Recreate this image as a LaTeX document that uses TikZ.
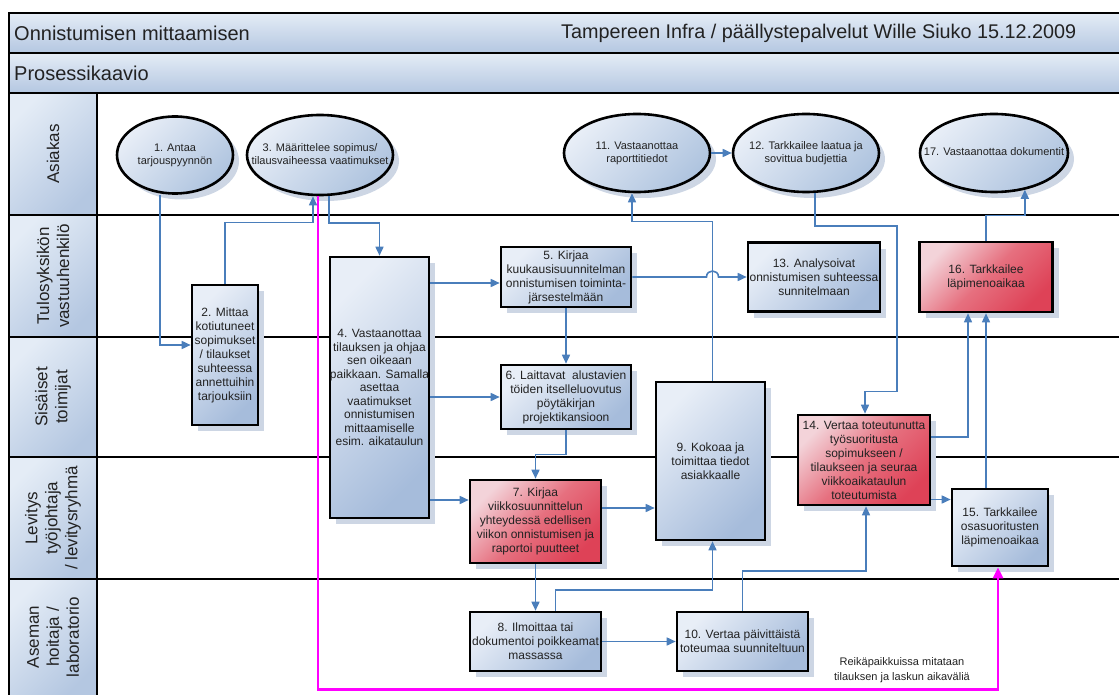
\documentclass[tikz,border=0pt]{standalone}
\usepackage{fontspec}
\setmainfont{Liberation Sans}
\usetikzlibrary{shapes.geometric,arrows.meta,shadows,calc}
\definecolor{hdA}{HTML}{E4ECF6}
\definecolor{hdB}{HTML}{B4C7E1}
\definecolor{bxA}{HTML}{E8EEF7}
\definecolor{bxB}{HTML}{A6BCDB}
\definecolor{ovB}{HTML}{AFC4DF}
\definecolor{rdA}{HTML}{F3D3D9}
\definecolor{rdM}{HTML}{E6707F}
\definecolor{rdB}{HTML}{DE4257}
\definecolor{flowc}{HTML}{4A7EBB}
\definecolor{shad}{HTML}{CDD6E4}
\definecolor{txt}{HTML}{222222}
\definecolor{mag}{HTML}{FF00FF}
\newcommand{\ovtxt}[1]{\makebox[0pt]{\begin{tabular}{@{}c@{}}#1\end{tabular}}}
\begin{document}
\begin{tikzpicture}[x=1pt,y=-1pt,
  frame/.style={line width=2.4pt, draw=black},
  boxbase/.style={draw=black, line width=2.6pt, inner sep=0pt, text=txt,
    font=\fontsize{12}{14}\selectfont,
    drop shadow={shadow xshift=6pt, shadow yshift=-6pt, fill=shad, opacity=1}},
  bluebox/.style={boxbase, rectangle, align=center, top color=bxA, bottom color=bxB, shading angle=45},
  redbox/.style={boxbase, rectangle, align=center, top color=rdA, bottom color=rdB, middle color=rdM, shading angle=45},
  oval/.style={boxbase, ellipse, top color=bxA, bottom color=ovB, shading angle=45, font=\fontsize{11}{13}\selectfont},
  flow/.style={draw=flowc, line width=1.6pt, -{Triangle[length=9pt,width=8pt]}},
  magflow/.style={draw=mag, line width=2.6pt, -{Triangle[length=11pt,width=10pt]}},
  lanelabel/.style={rotate=90, align=center, text=txt, font=\fontsize{17}{20}\selectfont},
  titletext/.style={text=txt, font=\fontsize{20}{24}\selectfont, inner sep=0pt},
  celltop/.style={top color=hdA, bottom color=hdB},
  celldiag/.style={top color=hdA, bottom color=hdB, shading angle=45},
]
\useasboundingbox (0,0) rectangle (1119,695);
% backgrounds
\fill[celltop] (9,13) rectangle (1119,53);
\fill[celltop] (9,53) rectangle (1119,93);
\fill[celldiag] (9,93) rectangle (97,215);
\fill[celldiag] (9,215) rectangle (97,337);
\fill[celldiag] (9,337) rectangle (97,457);
\fill[celldiag] (9,457) rectangle (97,579);
\fill[celldiag] (9,579) rectangle (97,695);
% frame lines
\draw[frame] (9,695) -- (9,13) -- (1119,13);
\draw[frame] (9,53) -- (1119,53);
\draw[frame] (9,93) -- (1119,93);
\draw[frame] (97,93) -- (97,695);
\foreach \yy in {215,337,457,579} { \draw[frame] (9,\yy) -- (1119,\yy); }
% titles
\node[titletext, anchor=west] (t1) at (14,33) {Onnistumisen mittaamisen};
\node[titletext, anchor=west, font=\fontsize{19.8}{24}\selectfont] (t2) at (561,33) {Tampereen Infra / päällystepalvelut Wille Siuko 15.12.2009};
\node[titletext, anchor=west] (t3) at (14,73) {Prosessikaavio};
% lane labels
\node[lanelabel] (l1) at (53,154) {Asiakas};
\node[lanelabel] (l2) at (53,276) {Tulosyksikön\\vastuuhenkilö};
\node[lanelabel] (l3) at (53,397) {Sisäiset\\toimijat};
\node[lanelabel] (l4) at (53,518) {Levitys\\työjohtaja\\/ levitysryhmä};
\node[lanelabel] (l5) at (53,637) {Aseman\\hoitaja /\\laboratorio};
% ovals
\node[oval, minimum width=116pt, minimum height=77pt] (n1) at (175,155) {\ovtxt{1. Antaa\\tarjouspyynnön}};
\node[oval, minimum width=146pt, minimum height=80pt] (n3) at (320,155) {\ovtxt{3. Määrittelee sopimus/\\tilausvaiheessa vaatimukset}};
\node[oval, minimum width=146pt, minimum height=78pt] (n11) at (637,153) {\ovtxt{11. Vastaanottaa\\raporttitiedot}};
\node[oval, minimum width=146pt, minimum height=78pt] (n12) at (806,153) {\ovtxt{12. Tarkkailee laatua ja\\sovittua budjettia}};
\node[oval, minimum width=148pt, minimum height=78pt] (n17) at (994,153) {\ovtxt{17. Vastaanottaa dokumentit}};
% boxes
\node[bluebox, minimum width=66pt, minimum height=140pt] (n2) at (225,355) {2. Mittaa\\kotiutuneet\\sopimukset\\/ tilaukset\\suhteessa\\annettuihin\\tarjouksiin};
\node[bluebox, minimum width=99pt, minimum height=261pt, font=\fontsize{12}{13.5}\selectfont] (n4) at (379.5,387.5) {4. Vastaanottaa\\tilauksen ja ohjaa\\sen oikeaan\\paikkaan. Samalla\\asettaa\\vaatimukset\\onnistumisen\\mittaamiselle\\esim. aikataulun};
\node[bluebox, minimum width=130pt, minimum height=60pt] (n5) at (566,277) {5. Kirjaa\\kuukausisuunnitelman\\onnistumisen toiminta-\\järsestelmään};
\node[bluebox, minimum width=130pt, minimum height=64pt] (n6) at (566,397) {6. Laittavat~ alustavien\\töiden itselleluovutus\\pöytäkirjan\\projektikansioon};
\node[redbox, minimum width=131pt, minimum height=83pt] (n7) at (535.5,521.5) {7. Kirjaa\\viikkosuunnittelun\\yhteydessä edellisen\\viikon onnistumisen ja\\raportoi puutteet};
\node[bluebox, minimum width=131pt, minimum height=59pt] (n8) at (535.5,641.5) {8. Ilmoittaa tai\\dokumentoi poikkeamat\\massassa};
\node[bluebox, minimum width=109pt, minimum height=158pt] (n9) at (710.5,461) {9. Kokoaa ja\\toimittaa tiedot\\asiakkaalle};
\node[bluebox, minimum width=131pt, minimum height=59pt] (n10) at (742.5,641.5) {10. Vertaa päivittäistä\\toteumaa suunniteltuun};
\node[bluebox, minimum width=132pt, minimum height=69pt] (n13) at (814,277) {13. Analysoivat\\onnistumisen suhteessa\\sunnitelmaan};
\node[redbox, minimum width=132pt, minimum height=90pt] (n14) at (864,460) {14. Vertaa toteutunutta\\työsuoritusta\\sopimukseen /\\tilaukseen ja seuraa\\viikkoaikataulun\\toteutumista};
\node[bluebox, minimum width=96pt, minimum height=77pt] (n15) at (1000,527.5) {15. Tarkkailee\\osasuoritusten\\läpimenoaikaa};
\node[redbox, minimum width=133pt, minimum height=70pt] (n16) at (986,277) {16. Tarkkailee\\läpimenoaikaa};
\node[align=center, text=txt, font=\fontsize{11}{15}\selectfont] (note) at (902,670) {Reikäpaikkuissa mitataan\\tilauksen ja laskun aikaväliä};
% helper coordinates
\coordinate (v911) at ([xshift=2pt]n9.north);
\coordinate (hopc) at (v911 |- n5.east);
\coordinate (p45) at ([yshift=-6pt]n5.west);
\coordinate (p47) at ([yshift=21.5pt]n7.west);
\coordinate (p79) at ([yshift=-47pt]n9.west);
\coordinate (p1415) at ([yshift=28pt]n15.west);
% connectors
\draw[magflow] ([xshift=-2pt]n3.south) -- ++(0,493) -| ([xshift=-2pt]n15.south);
\draw[flow] ([xshift=-15pt]n1.south) |- ([yshift=10pt]n2.west);
\draw[flow] (n2.north) -- ++(0,-61) -| ([xshift=-7pt]n3.south);
\draw[flow] ([xshift=9pt]n3.south) -- ++(0,27) -| (n4.north);
\draw[flow] (n4.east |- p45) -- (p45);
\draw[flow] (n4.east |- n6.west) -- (n6.west);
\draw[flow] (n4.east |- p47) -- (p47);
\draw[flow] (n5.south) -- (n6.north);
\draw[flow] (n6.south) -- ++(0,24) -| (n7.north);
\draw[flow] (n7.south) -- (n8.north);
\draw[flow] (n7.east |- p79) -- (p79);
\draw[flow] ([xshift=20pt]n8.north) -- ++(0,-21) -| (v911 |- n9.south);
\draw[flow] (n8.east) -- (n10.west);
\draw[flow] (n10.north) -- ++(0,-40) -| ([xshift=2pt]n14.south);
\draw[flow] (v911) -- ++(0,-159) -| ([xshift=-5pt]n11.south);
\draw[flow] (n5.east) -- ([xshift=-6pt]hopc) .. controls ([xshift=-6pt,yshift=8pt]hopc) and ([xshift=6pt,yshift=8pt]hopc) .. ([xshift=6pt]hopc) -- (n13.west);
\draw[flow] (n11.east) -- (n12.west);
\draw[flow] ([xshift=9pt]n12.south) -- ++(0,33) -- ++(82,0) -- ++(0,165) -| ([xshift=1pt]n14.north);
\draw[flow] (n14.east |- p1415) -- (p1415);
\draw[flow] ([yshift=23pt]n14.east) -| ([xshift=-18pt]n16.south);
\draw[flow] (n16.south |- n15.north) -- (n16.south);
\draw[flow] (n16.north) -- ++(0,-25) -| (n17.-50);
\end{tikzpicture}
\end{document}
